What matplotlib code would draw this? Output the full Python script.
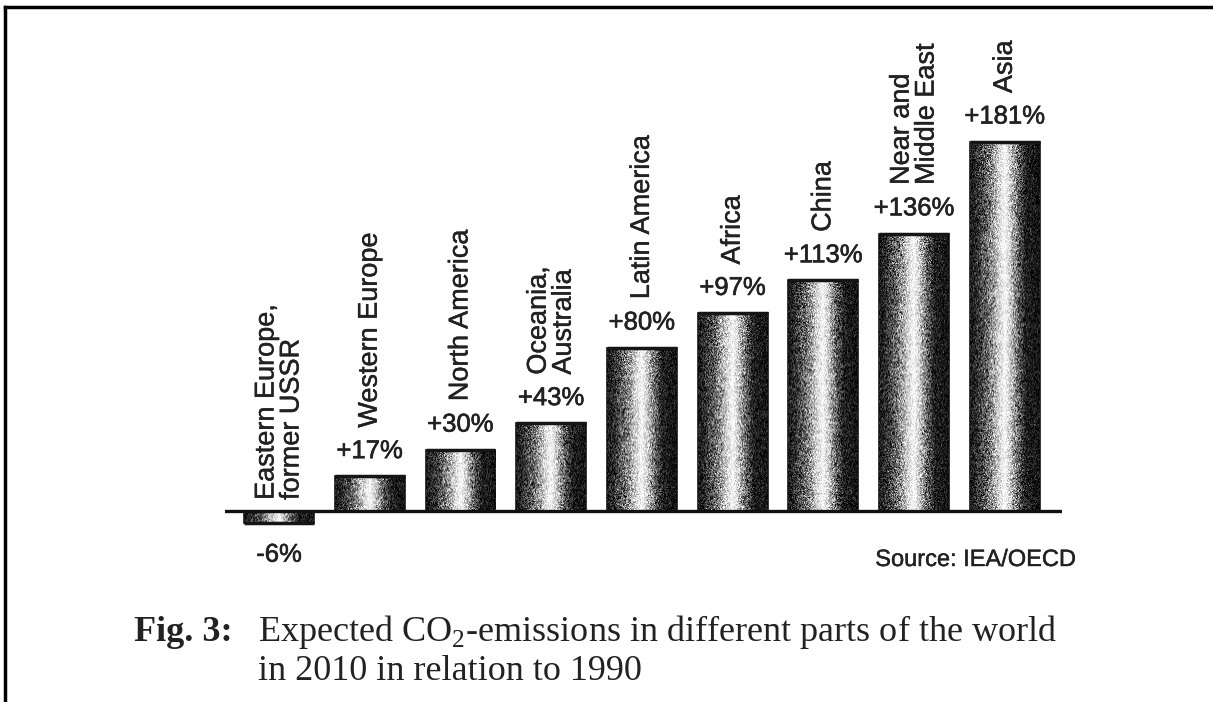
import numpy as np
import matplotlib
matplotlib.use("Agg")
import matplotlib.pyplot as plt
from matplotlib.lines import Line2D
import matplotlib.patheffects as pe

plt.rcParams['font.family'] = ['Liberation Sans', 'DejaVu Sans']
plt.rcParams['mathtext.fontset'] = 'custom'
plt.rcParams['mathtext.rm'] = 'Liberation Serif'

regions = ["Eastern Europe,\nformer USSR", "Western Europe", "North America",
           "Oceania,\nAustralia", "Latin America", "Africa", "China",
           "Near and\nMiddle East", "Asia"]
change_pct = [-6, 17, 30, 43, 80, 97, 113, 136, 181]
source_note = "Source: IEA/OECD"

ink = '#222222'
thick = [pe.withStroke(linewidth=0.45, foreground=ink)]
thin = [pe.withStroke(linewidth=0.3, foreground=ink)]

fig = plt.figure(figsize=(12.13, 7.02), dpi=100)
ax = fig.add_axes([225 / 1213, 0.2430, 837 / 1213, 0.6103])
ax.set_xlim(-0.595, 8.63)
ax.set_ylim(-10, 200)
ax.axis('off')

# cylinder-like shading across each bar, with a scanned stipple
prof_x = [0.0, 0.08, 0.25, 0.42, 0.5, 0.58, 0.70, 0.80, 1.0]
prof_v = [0.10, 0.16, 0.42, 0.85, 0.98, 0.80, 0.36, 0.12, 0.07]
rng = np.random.default_rng(7)
width = 0.77

for i, v in enumerate(change_pct):
    bar = ax.bar(i, v, width=width, color='#333333', edgecolor='#151515',
                 linewidth=1.2, zorder=2)[0]
    cols = 70
    rows = max(int(abs(v) * 2.04), 4)
    base = np.interp(np.linspace(0, 1, cols), prof_x, prof_v)
    img = np.tile(base, (rows, 1))
    grain = rng.normal(0, 1, img.shape)
    img = np.clip(img + grain * 0.18 * (0.3 + np.sin(np.pi * img)), 0, 1)
    y0, y1 = (0, v) if v > 0 else (v, 0)
    im = ax.imshow(img, cmap='gray', vmin=0, vmax=1, aspect='auto',
                   extent=(i - width / 2, i + width / 2, y0, y1),
                   interpolation='bilinear', zorder=3)
    im.set_clip_path(bar)
    # dark cap along the top edge
    ax.plot([i - width / 2, i + width / 2], [v, v], color='#151515', lw=2.5,
            zorder=4, solid_capstyle='butt')

    lab = f"{v:+d}%"
    if v >= 0:
        ax.annotate(lab, (i, v), xytext=(0, 9.5), textcoords='offset points',
                    ha='center', va='bottom', fontsize=18.5, color=ink,
                    path_effects=thick, annotation_clip=False)
        ax.annotate(regions[i], (i, v), xytext=(0, 35), textcoords='offset points',
                    rotation=90, ha='center', va='bottom', multialignment='left',
                    fontsize=19.5, color=ink, linespacing=0.95,
                    path_effects=thin, annotation_clip=False)
    else:
        ax.annotate(lab, (i, v), xytext=(0, -14), textcoords='offset points',
                    ha='center', va='top', fontsize=18.5, color=ink,
                    path_effects=thick, annotation_clip=False)
        ax.annotate(regions[i], (i, 0), xytext=(0, 8), textcoords='offset points',
                    rotation=90, ha='center', va='bottom', multialignment='left',
                    fontsize=19.5, color=ink, linespacing=0.95,
                    path_effects=thin, annotation_clip=False)

ax.axhline(0, color='#111111', lw=2.4, zorder=5)

fig.text(1076 / 1213, 1 - 560 / 702, source_note, ha='right', va='center',
         fontsize=17, color=ink, path_effects=thin)

# caption
fig.text(134 / 1213, 1 - 641 / 702, "Fig. 3:", family='Liberation Serif',
         weight='bold', fontsize=26, color=ink, va='baseline')
fig.text(258 / 1213, 1 - 641 / 702,
         r"Expected CO$_\mathrm{2}$-emissions in different parts of the world",
         family='Liberation Serif', fontsize=26, color=ink, va='baseline')
fig.text(258 / 1213, 1 - 680 / 702, "in 2010 in relation to 1990",
         family='Liberation Serif', fontsize=26, color=ink, va='baseline')

# page frame (top and left edges)
fig.add_artist(Line2D([5 / 1213, 1.0], [1 - 7 / 702, 1 - 7 / 702],
                      transform=fig.transFigure, color='black', lw=2.5))
fig.add_artist(Line2D([5 / 1213, 5 / 1213], [0.0, 1 - 7 / 702],
                      transform=fig.transFigure, color='black', lw=2.5))

fig.savefig("out.png", dpi=100, facecolor='white')
